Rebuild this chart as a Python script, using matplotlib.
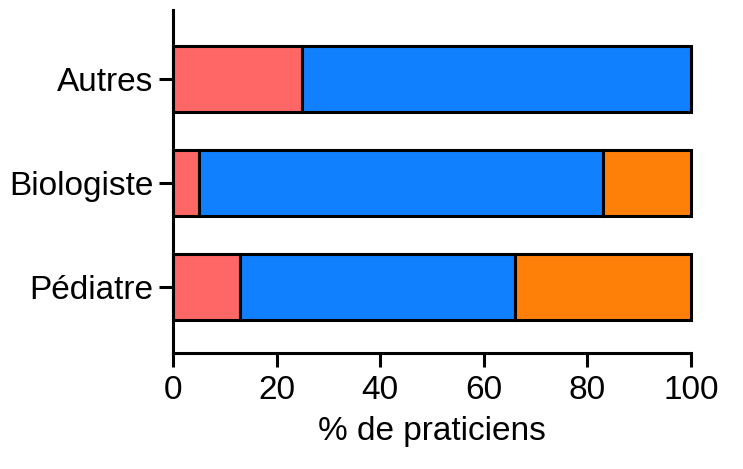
import numpy as np
import matplotlib.pyplot as plt

plt.rcParams['font.family'] = ['Liberation Sans', 'DejaVu Sans']

# Categories from bottom to top
categories = ['Pédiatre', 'Biologiste', 'Autres']
red_vals = [13, 5, 25]
blue_vals = [53, 78, 75]
orange_vals = [34, 17, 0]

colors = ['#FF6666', '#1180FF', '#FF8008']

fig = plt.figure(figsize=(7.43, 4.69), dpi=100)
ax = fig.add_axes([0.2328, 0.2473, 0.6972, 0.7314])

y = np.arange(len(categories))
h = 0.635
left = np.zeros(len(categories))
for vals, c in zip([red_vals, blue_vals, orange_vals], colors):
    vals = np.array(vals, dtype=float)
    bars = ax.barh(y, vals, left=left, height=h, color=c, edgecolor='black', linewidth=2.2)
    for b in bars:
        b.set_clip_on(False)
    left += vals

ax.set_xlim(0, 100)
ax.set_ylim(-0.635, 2.66)
ax.set_xticks(np.arange(0, 101, 20))
ax.set_yticks(y)
ax.set_yticklabels(categories)
ax.set_xlabel('% de praticiens', fontsize=24, labelpad=7)

for s in ['top', 'right']:
    ax.spines[s].set_visible(False)
for s in ['left', 'bottom']:
    ax.spines[s].set_linewidth(2.2)
ax.tick_params(axis='both', width=2.2, length=10, labelsize=24)
ax.tick_params(axis='y', pad=4)
ax.tick_params(axis='x', pad=6)

fig.savefig('out.png', dpi=100)
